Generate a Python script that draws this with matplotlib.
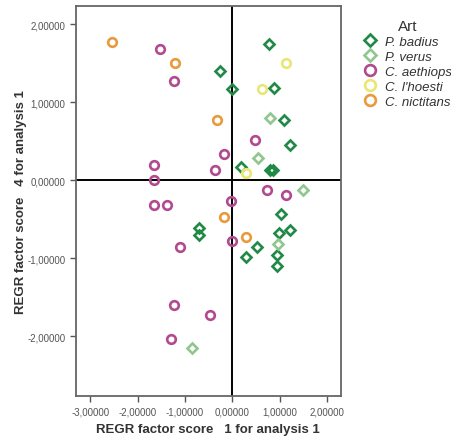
import matplotlib.pyplot as plt

plt.rcParams['font.family'] = ['Liberation Sans', 'DejaVu Sans']

# factor scores (x = score 1, y = score 4)
badius_x = [0.78, -0.25, -0.01, 0.88, 1.09, 1.22, 0.18, 0.80, 0.86, 1.03, 0.99, 1.21, 0.52, 0.30, 0.94, 0.95, -0.70, -0.71]
badius_y = [1.75, 1.40, 1.17, 1.19, 0.77, 0.45, 0.17, 0.13, 0.13, -0.43, -0.67, -0.64, -0.85, -0.98, -0.96, -1.10, -0.61, -0.70]

verus_x = [0.80, 0.55, 1.49, 0.97, -0.84]
verus_y = [0.80, 0.29, -0.12, -0.82, -2.15]

aethiops_x = [-1.53, -1.24, -1.65, -1.65, -1.66, -1.37, -1.10, 0.47, -0.18, -0.37, 0.74, 1.13, -0.03, -0.01, -1.23, -0.47, -1.29]
aethiops_y = [1.68, 1.28, 0.20, 0.01, -0.31, -0.31, -0.85, 0.52, 0.34, 0.13, -0.12, -0.19, -0.26, -0.78, -1.60, -1.73, -2.03]

lhoesti_x = [1.14, 0.63, 0.30]
lhoesti_y = [1.50, 1.17, 0.09]

nictitans_x = [-2.54, -1.21, -0.32, -0.17, 0.28]
nictitans_y = [1.77, 1.51, 0.77, -0.47, -0.73]

ticks = [-3, -2, -1, 0, 1, 2]
y_ticks = [-2, -1, 0, 1, 2]

fig = plt.figure(figsize=(4.51, 4.39), dpi=100)
ax = fig.add_axes([76 / 451, 1 - 396.7 / 439, (340.7 - 76) / 451, (396.7 - 6.7) / 439])

ax.axvline(0, color='black', lw=1.4, zorder=1)
ax.axhline(0, color='black', lw=1.4, zorder=1)

groups = [
    (badius_x, badius_y, 'D', '#1f8a45', 'P. badius'),
    (verus_x, verus_y, 'D', '#8fc78e', 'P. verus'),
    (aethiops_x, aethiops_y, 'o', '#b24a90', 'C. aethiops'),
    (lhoesti_x, lhoesti_y, 'o', '#e9e676', "C. l'hoesti"),
    (nictitans_x, nictitans_y, 'o', '#e99a3c', 'C. nictitans'),
]
for gx, gy, m, c, lab in groups:
    ms = 5.2 if m == 'D' else 6.2
    ax.plot(gx, gy, ls='none', marker=m, ms=ms, mfc='none', mec=c, mew=1.9,
            label=lab, zorder=3)

ax.set_xlim(-3.30, 2.29)
ax.set_ylim(-2.76, 2.24)
ax.set_xticks(ticks)
ax.set_yticks(y_ticks)
ax.set_xticklabels([f'{t:.5f}'.replace('.', ',') for t in ticks])
ax.set_yticklabels([f'{t:.5f}'.replace('.', ',') for t in y_ticks])
ax.tick_params(labelsize=7, labelcolor='#555555', color='#555555', length=4, width=1)
for s in ax.spines.values():
    s.set_color('#666666')
    s.set_linewidth(1.3)

ax.set_xlabel('REGR factor score   1 for analysis 1', fontsize=9.5, fontweight='bold',
              color='#333333', labelpad=5)
ax.set_ylabel('REGR factor score   4 for analysis 1', fontsize=9.5, fontweight='bold',
              color='#333333', labelpad=0)

leg = fig.legend(loc='upper left', bbox_to_anchor=(353 / 451, 1 - 11 / 439), frameon=False,
                 title='Art', fontsize=9.5, title_fontsize=11, handletextpad=0.55,
                 labelspacing=0.2, handlelength=1.2, borderpad=0.2, markerscale=1.25)
for t in leg.get_texts():
    t.set_fontstyle('italic')
    t.set_color('#333333')
leg.get_title().set_color('#333333')

fig.savefig('out.png', dpi=100)
